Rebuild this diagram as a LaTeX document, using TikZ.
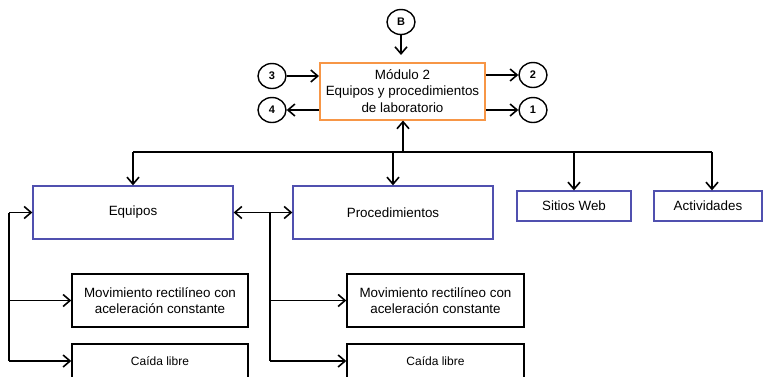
\documentclass[tikz,border=0pt]{standalone}
\usepackage{fontspec}
\setmainfont{Liberation Sans}
\usetikzlibrary{arrows.meta,shapes.geometric}
\definecolor{orangeb}{RGB}{247,150,70}
\definecolor{blueb}{RGB}{80,80,175}
\begin{document}
\begin{tikzpicture}[x=1pt,y=-1pt,
  tip/.tip={Straight Barb[length=7pt,width=12pt,line width=1.6pt]},
  conn/.style={line width=1.5pt,-tip},
  plain/.style={line width=1.5pt},
  modbox/.style={draw=orangeb,line width=2pt,inner sep=0pt,align=center,font=\fontsize{13.4}{16.5}\selectfont},
  bluebox/.style={draw=blueb,line width=1.3pt,inner sep=0pt,align=center,font=\fontsize{13.4}{16.5}\selectfont},
  blackbox/.style={draw=black,line width=1.4pt,inner sep=0pt,align=center,font=\fontsize{13.4}{16.5}\selectfont},
  circ/.style={draw,ellipse,line width=1.4pt,minimum width=28pt,minimum height=25pt,inner sep=0pt,font=\fontsize{11}{12}\selectfont\bfseries}]
\useasboundingbox (0,0) rectangle (763,376);
% module
\node[modbox,minimum width=165pt,minimum height=57pt] (mod) at (402.5,91) {Módulo 2\\Equipos y procedimientos\\de laboratorio};
% circles
\node[circ] (B) at (401,22) {B};
\node[circ] (c3) at (272,76) {3};
\node[circ] (c4) at (272,110) {4};
\node[circ] (c2) at (533,75) {2};
\node[circ] (c1) at (533,110) {1};
\coordinate (Bend) at (401,55);
\draw[conn] (B) -- (Bend);
\draw[conn] (c3.east) -- (c3.east -| mod.west);
\draw[conn] (c4.east -| mod.west) -- (c4.east);
\draw[conn] (c2.west -| mod.east) -- (c2.west);
\draw[conn] (c1.west -| mod.east) -- (c1.west);
% second level
\node[bluebox,minimum width=200pt,minimum height=53pt] (eq) at (133,212.5) {Equipos};
\node[bluebox,minimum width=200pt,minimum height=53pt] (pr) at (393,212.5) {Procedimientos};
\node[bluebox,minimum width=114pt,minimum height=30pt] (sw) at (574,206) {Sitios Web};
\node[bluebox,minimum width=108pt,minimum height=30pt] (ac) at (708,206) {Actividades};
\coordinate (hub) at (403,152);
\coordinate (hl) at (133,152);
\coordinate (hr) at (712,152);
\draw[conn] (hub) -- (hub |- mod.south);
\draw[plain] (hl) -- (hr);
\draw[conn] (hl) -- (eq.north);
\draw[conn] (393,152) -- (pr.north);
\draw[conn] (sw.north |- hl) -- (sw.north);
\draw[conn] (hr) -- (hr |- ac.north);
% third level
\node[blackbox,minimum width=176pt,minimum height=53pt] (m1) at (160,300.5) {Movimiento rectilíneo con\\aceleración constante};
\node[blackbox,minimum width=176pt,minimum height=34pt,font=\fontsize{12}{14}\selectfont] (c1b) at (160,361) {Caída libre};
\node[blackbox,minimum width=177pt,minimum height=53pt] (m2) at (435.5,300.5) {Movimiento rectilíneo con\\aceleración constante};
\node[blackbox,minimum width=177pt,minimum height=34pt,font=\fontsize{12}{14}\selectfont] (c2b) at (435.5,361) {Caída libre};
% equipos <-> procedimientos
\coordinate (br) at (270,212.5);
\draw[line width=1.5pt,tip-tip] (eq.east) -- (pr.west);
\draw[plain] (br) -- (270,361);
\draw[conn] (270,300.5) -- (m2.west);
\draw[conn] (270,361) -- (c2b.west);
% left branch
\coordinate (lb) at (9,212.5);
\draw[plain] (lb) -- (9,361);
\draw[conn] (lb) -- (eq.west);
\draw[conn] (9,300.5) -- (m1.west);
\draw[conn] (9,361) -- (c1b.west);
\end{tikzpicture}
\end{document}
